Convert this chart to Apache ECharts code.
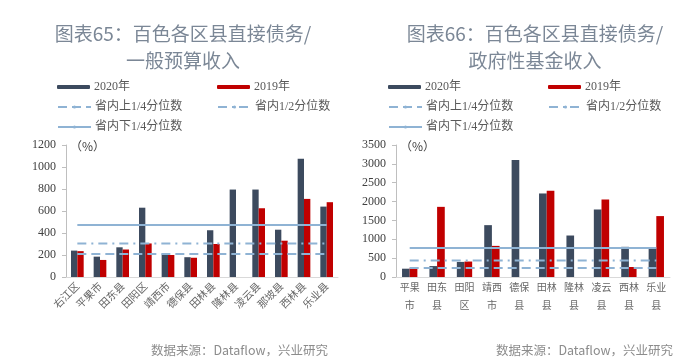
<!DOCTYPE html>
<html>
<head>
<meta charset="utf-8">
<script src="https://cdn.jsdelivr.net/npm/echarts@6/dist/echarts.min.js"></script>
<style>
html,body{margin:0;padding:0;background:#fff;}
#c{width:700px;height:363px;}
</style>
</head>
<body>
<div id="c"></div>
<script>
// ---- Chart 65 data ----
const cats65 = ['右江区','平果市','田东县','田阳区','靖西市','德保县','田林县','隆林县','凌云县','那坡县','西林县','乐业县'];
const v2020_65 = [240, 185, 270, 630, 205, 180, 425, 795, 795, 430, 1075, 640];
const v2019_65 = [235, 155, 250, 305, 200, 175, 300, null, 625, 330, 710, 680];
const q_upper_65 = 210;   // 省内上1/4分位数
const q_mid_65 = 305;     // 省内1/2分位数
const q_lower_65 = 472;   // 省内下1/4分位数
const yTicks65 = {min: 0, max: 1200, interval: 200};

// ---- Chart 66 data ----
const cats66 = ['平果市','田东县','田阳区','靖西市','德保县','田林县','隆林县','凌云县','西林县','乐业县'];
const v2020_66 = [220, 290, 400, 1375, 3100, 2215, 1100, 1790, 800, 755];
const v2019_66 = [250, 1860, 410, 825, null, 2290, null, 2055, 265, 1615];
const q_upper_66 = 240;
const q_mid_66 = 440;
const q_lower_66 = 770;
const yTicks66 = {min: 0, max: 3500, interval: 500};

const titles = [['图表65：百色各区县直接债务/','一般预算收入'],['图表66：百色各区县直接债务/','政府性基金收入']];
const seriesNames = ['2020年','2019年','省内上1/4分位数','省内1/2分位数','省内下1/4分位数'];
const sourceText = '数据来源：Dataflow，兴业研究';

const DARK = '#3c4a5e', RED = '#c00000', LINEC = '#8fb3d4';
const SERIF = '"Liberation Serif","Noto Sans CJK SC",serif';
const CJK = '"Noto Sans CJK SC",sans-serif';

const chart = echarts.init(document.getElementById('c'), null, {renderer:'canvas'});

function lineData(cats, v){ return [[cats[0], v],[cats[cats.length-1], v]]; }

const grids = [
  {left:66, right:362, top:145, bottom:86},
  {left:396, right:30, top:145, bottom:86}
];

const yAxisCommon = (t, gi) => ({
  type:'value', gridIndex:gi, min:t.min, max:t.max, interval:t.interval,
  name:'（%）', nameLocation:'end', nameGap:-1,
  nameTextStyle:{color:'#404040', fontFamily:CJK, fontSize:12, align:'left', verticalAlign:'middle', padding:[0,0,0,4]},
  axisLine:{show:true, lineStyle:{color:'#bfbfbf'}},
  axisTick:{show:true, length:4, lineStyle:{color:'#bfbfbf'}},
  splitLine:{show:false},
  axisLabel:{color:'#404040', fontFamily:SERIF, fontSize:12, margin:10, formatter: v => String(v)}
});

const xAxes = [
  {type:'category', gridIndex:0, data:cats65,
   axisLine:{lineStyle:{color:'#d9d9d9'}}, axisTick:{show:false},
   axisLabel:{rotate:45, interval:0, color:'#666', fontFamily:CJK, fontSize:10.5, margin:7}},
  {type:'category', gridIndex:1, data:cats66,
   axisLine:{lineStyle:{color:'#d9d9d9'}}, axisTick:{show:false},
   axisLabel:{interval:0, color:'#666', fontFamily:CJK, fontSize:10, margin:1, lineHeight:18,
     formatter: n => n.slice(0,2) + '\n' + n.slice(2)}}
];

function makeSeries(gi, cats, a, b, qu, qm, ql){
  const lineCommon = {type:'line', xAxisIndex:gi, yAxisIndex:gi, symbol:'none', z:5, silent:true};
  return [
    {name:seriesNames[0], type:'bar', xAxisIndex:gi, yAxisIndex:gi, data:a, barWidth:'28%', barGap:'0%', itemStyle:{color:DARK}},
    {name:seriesNames[1], type:'bar', xAxisIndex:gi, yAxisIndex:gi, data:b, barWidth:'28%', barGap:'0%', itemStyle:{color:RED}},
    Object.assign({name:seriesNames[2], data:lineData(cats,qu), lineStyle:{color:LINEC, width:2, type:[9,5]}, itemStyle:{color:LINEC}}, lineCommon),
    Object.assign({name:seriesNames[3], data:lineData(cats,qm), lineStyle:{color:LINEC, width:2, type:[9,5,2,5]}, itemStyle:{color:LINEC}}, lineCommon),
    Object.assign({name:seriesNames[4], data:lineData(cats,ql), lineStyle:{color:LINEC, width:2, type:'solid'}, itemStyle:{color:LINEC}}, lineCommon)
  ];
}

function legendItem(name, left, top){
  return {data:[name], left:left, top:top, itemWidth:33, itemHeight:4, itemGap:0, padding:0,
    textStyle:{color:'#595959', fontFamily:SERIF, fontSize:12, padding:[0,0,0,-1]}, selectedMode:false};
}
const legends = [];
[[57,217],[388,548]].forEach(([c1,c2]) => {
  legends.push(legendItem(seriesNames[0], c1, 81));
  legends.push(legendItem(seriesNames[1], c2, 81));
  legends.push(legendItem(seriesNames[2], c1, 101));
  legends.push(legendItem(seriesNames[3], c2, 101));
  legends.push(legendItem(seriesNames[4], c1, 121));
});

const titleComps = [];
[[178, titles[0]],[530, titles[1]]].forEach(([cx, t]) => {
  titleComps.push({text:t[0], left:cx, top:19, textAlign:'center',
    textStyle:{color:'#7b8796', fontFamily:CJK, fontSize:19, fontWeight:'normal'}});
  titleComps.push({text:t[1], left:cx, top:46, textAlign:'center',
    textStyle:{color:'#7b8796', fontFamily:CJK, fontSize:19, fontWeight:'normal'}});
});
titleComps.push({text:sourceText, right:367, top:339, textStyle:{color:'#8c8c8c', fontFamily:CJK, fontSize:12.5, fontWeight:'normal'}});
titleComps.push({text:sourceText, right:22, top:339, textStyle:{color:'#8c8c8c', fontFamily:CJK, fontSize:12.5, fontWeight:'normal'}});

chart.setOption({
  animation:false,
  backgroundColor:'#ffffff',
  title:titleComps,
  legend:legends,
  grid:grids,
  xAxis:xAxes,
  yAxis:[yAxisCommon(yTicks65,0), yAxisCommon(yTicks66,1)],
  series:[].concat(
    makeSeries(0, cats65, v2020_65, v2019_65, q_upper_65, q_mid_65, q_lower_65),
    makeSeries(1, cats66, v2020_66, v2019_66, q_upper_66, q_mid_66, q_lower_66)
  )
});
</script>
</body>
</html>
